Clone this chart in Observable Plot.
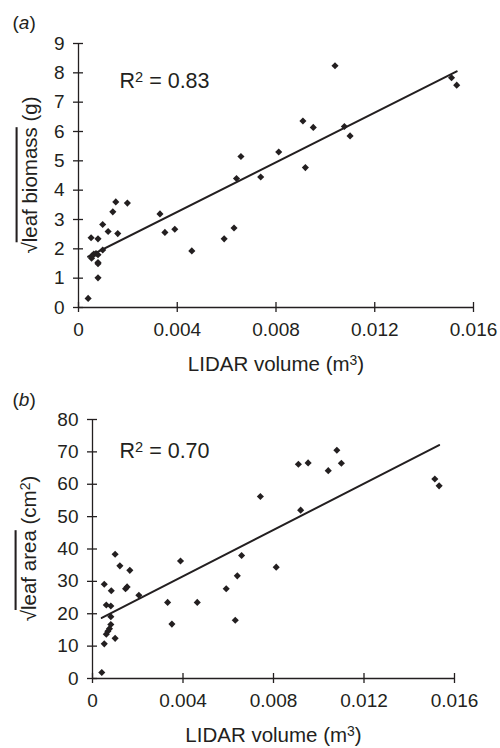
<!DOCTYPE html>
<html>
<head>
<meta charset="utf-8">
<script src="https://cdn.jsdelivr.net/npm/d3@7"></script>
<script src="https://cdn.jsdelivr.net/npm/@observablehq/plot@0.6"></script>
<style>
  html, body { margin: 0; padding: 0; background: #fff; }
  #chart { width: 500px; height: 748px; }
  #chart svg { display: block; }
</style>
</head>
<body>
<div id="chart"></div>
<script>
// ---- Data ----
const xTicks = [0, 0.004, 0.008, 0.012, 0.016];
const xTickLabels = ["0", "0.004", "0.008", "0.012", "0.016"];
const yTicksA = [0, 1, 2, 3, 4, 5, 6, 7, 8, 9];
const yTicksB = [0, 10, 20, 30, 40, 50, 60, 70, 80];

// Panel (a): LIDAR volume vs sqrt leaf biomass
const volA = [0.00039, 0.00051, 0.00079, 0.00053, 0.00062, 0.00071, 0.00079, 0.00055, 0.00079, 0.00079,
  0.00079, 0.00098, 0.00098, 0.0012, 0.00139, 0.00151, 0.00159, 0.00198, 0.0033, 0.0035,
  0.0039, 0.00459, 0.0059, 0.0063, 0.0064, 0.00658, 0.00738, 0.00811, 0.00909, 0.00919,
  0.00951, 0.01077, 0.011, 0.01039, 0.01511, 0.01532];
const biomassA = [0.31, 2.38, 2.34, 1.68, 1.82, 1.84, 1.80, 1.76, 1.53, 1.49,
  1.01, 1.96, 2.83, 2.59, 3.26, 3.60, 2.52, 3.56, 3.19, 2.56,
  2.67, 1.93, 2.34, 2.71, 4.40, 5.15, 4.45, 5.30, 6.36, 4.77,
  6.14, 6.17, 5.85, 8.24, 7.83, 7.58];
const fitAx = [0.00039, 0.01532];
const fitAy = [1.73, 8.05];
const r2A = "0.83";

// Panel (b): LIDAR volume vs sqrt leaf area
const volB = [0.00041, 0.00052, 0.00052, 0.00083, 0.001, 0.00121, 0.00165, 0.00146, 0.00153, 0.00205,
  0.00061, 0.00081, 0.00081, 0.00081, 0.00075, 0.00068, 0.00061, 0.001, 0.00332, 0.00351,
  0.00389, 0.00463, 0.00591, 0.0064, 0.00631, 0.00659, 0.00812, 0.00742, 0.0092, 0.0091,
  0.00953, 0.01042, 0.0108, 0.011, 0.01513, 0.01532];
const areaB = [1.85, 10.7, 29.1, 27.1, 38.4, 34.8, 33.4, 27.7, 28.3, 25.7,
  22.7, 22.4, 19.1, 16.7, 15.4, 14.6, 13.7, 12.4, 23.5, 16.8,
  36.3, 23.5, 27.7, 31.7, 18.0, 38.0, 34.4, 56.2, 52.0, 66.2,
  66.6, 64.2, 70.5, 66.5, 61.6, 59.5];
const fitBx = [0.00041, 0.01532];
const fitBy = [18.7, 72.1];
const r2B = "0.70";

// ---- Drawing ----
const ink = "#231f20";
const font = "'Liberation Sans', Arial, Helvetica, sans-serif";

// fill a text element with styled segments
function rich(sel, segs) {
  sel.text(null);
  for (const s of segs) {
    const ts = sel.append("tspan").text(s.t);
    if (s.sup) ts.attr("font-size", "0.68em").attr("baseline-shift", "42%");
    if (s.it) ts.style("font-style", "italic");
    if (s.over) ts.style("text-decoration", "overline");
  }
}

function panel(opts) {
  const pts = opts.xs.map((x, i) => ({x, y: opts.ys[i]}));
  const fit = opts.fx.map((x, i) => ({x, y: opts.fy[i]}));
  const svg = Plot.plot({
    width: 500,
    height: opts.height,
    marginLeft: opts.ml,
    marginRight: opts.mr,
    marginTop: opts.mt,
    marginBottom: opts.mb,
    style: {fontFamily: font, fontSize: "19px", color: ink, background: "#fff", overflow: "visible"},
    x: {domain: [0, 0.016], axis: null},
    y: {domain: opts.yDomain, axis: null},
    marks: [
      Plot.ruleX([0], {stroke: ink, strokeWidth: 1.3}),
      Plot.ruleY([0], {stroke: ink, strokeWidth: 1.3}),
      // cross-ticks
      Plot.axisY({ticks: opts.yTicks, tickSize: 10, dx: 5, tickFormat: () => "", label: null, stroke: ink, strokeWidth: 1.3}),
      Plot.axisX({ticks: xTicks, tickSize: 10, dy: -5, tickFormat: () => "", label: null, stroke: ink, strokeWidth: 1.3}),
      // tick labels
      Plot.axisY({ticks: opts.yTicks, tickSize: 0, tickPadding: 14, label: null, fill: ink}),
      Plot.axisX({ticks: xTicks, tickSize: 0, tickPadding: 15, label: null, fill: ink,
        tickFormat: d => xTickLabels[xTicks.indexOf(d)]}),
      Plot.line(fit, {x: "x", y: "y", stroke: ink, strokeWidth: 2}),
      Plot.dot(pts, {x: "x", y: "y", symbol: "diamond2", r: 3.2, fill: ink, stroke: "none"}),
      Plot.text(["R2 = " + opts.r2], {frameAnchor: "top-left", dx: opts.r2dx, dy: opts.r2dy, textAnchor: "start", lineAnchor: "bottom", fill: ink, fontSize: 21.5, className: "r2"}),
      Plot.text([opts.tag], {frameAnchor: "top-left", dx: opts.tagdx, dy: opts.tagdy, textAnchor: "start", lineAnchor: "bottom", fill: ink, fontSize: 19, className: "paneltag"}),
      Plot.text(["LIDAR volume (m3)"], {frameAnchor: "bottom", dy: opts.xldy, lineAnchor: "bottom", fill: ink, fontSize: 20.5, className: "xlab"})
    ]
  });
  const s = d3.select(svg);
  rich(s.select(".r2 text"), [{t: "R"}, {t: "2", sup: true}, {t: " = " + opts.r2}]);
  rich(s.select(".paneltag text"), [{t: "("}, {t: opts.tag.slice(1, -1), it: true}, {t: ")"}]);
  rich(s.select(".xlab text"), [{t: "LIDAR volume (m"}, {t: "3", sup: true}, {t: ")"}]);
  // rotated y label
  const yl = s.append("text")
    .attr("transform", `translate(${opts.ylx},${opts.mt + (opts.height - opts.mt - opts.mb) / 2}) rotate(-90)`)
    .attr("text-anchor", "middle")
    .attr("dy", "0.32em")
    .attr("fill", ink)
    .attr("font-size", 20.5)
    .attr("font-family", font);
  rich(yl, opts.ylabel);
  return svg;
}

const chart = document.getElementById("chart");
chart.appendChild(panel({
  xs: volA, ys: biomassA, fx: fitAx, fy: fitAy, yDomain: [0, 9], yTicks: yTicksA,
  height: 375, ml: 78, mr: 27, mt: 43, mb: 68,
  r2: r2A, r2dx: 41, r2dy: 44, tag: "(a)", tagdx: -66, tagdy: -15,
  xldy: 63, ylx: 30,
  ylabel: [{t: "\u221A"}, {t: "leaf biomass", over: true}, {t: " (g)"}]
}));
chart.appendChild(panel({
  xs: volB, ys: areaB, fx: fitBx, fy: fitBy, yDomain: [0, 80], yTicks: yTicksB,
  height: 373, ml: 92, mr: 46, mt: 44, mb: 70,
  r2: r2B, r2dx: 27, r2dy: 38, tag: "(b)", tagdx: -80, tagdy: -14,
  xldy: 63, ylx: 29,
  ylabel: [{t: "\u221A"}, {t: "leaf area", over: true}, {t: " (cm"}, {t: "2", sup: true}, {t: ")"}]
}));
</script>
</body>
</html>
